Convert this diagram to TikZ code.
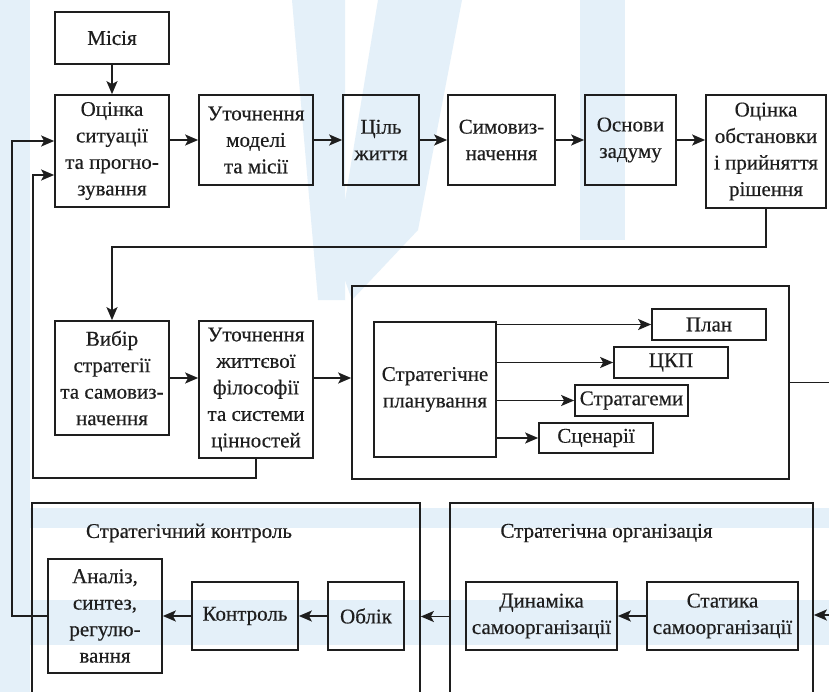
\documentclass[tikz,border=0pt]{standalone}
\usepackage{fontspec}
\setmainfont{Liberation Serif}
\newfontfamily\diagfont[FakeBold=0.4]{Liberation Serif}
\usetikzlibrary{arrows.meta}
\definecolor{wm}{RGB}{228,240,249}
\definecolor{ink}{RGB}{30,30,30}
\tikzset{
  base/.style={draw=ink, line width=1.7bp, inner sep=0pt, align=center,
    font=\diagfont\fontsize{21bp}{26.5bp}\selectfont, text=ink},
  bx/.style 2 args={base, rectangle, minimum width=#1, minimum height=#2},
  lbl/.style={inner sep=0pt, font=\diagfont\fontsize{21bp}{26.5bp}\selectfont, text=ink},
  arr/.style={draw=ink, line width=1.7bp, -{Stealth[length=13bp,width=11bp,inset=3bp]}},
  ln/.style={draw=ink, line width=1.7bp},
}
\begin{document}
\begin{tikzpicture}[x=1bp,y=-1bp]
\clip (0,0) rectangle (829,692);
\fill[white] (0,0) rectangle (829,692);
% watermark (approximate)
\fill[wm] (0,0) rectangle (30,692);
\fill[wm] (292,0) -- (345,0) -- (345,300) -- (318,300) -- cycle;
\fill[wm] (378,0) -- (462,0) -- (418,230) -- (352,300) -- (336,255) -- cycle;
\fill[wm] (580,0) rectangle (625,240);
\fill[wm] (0,508) rectangle (829,528);
\fill[wm] (0,600) rectangle (829,645);

% top row
\node[bx={114bp}{52bp}] (misia) at (112,38) {Місія};
\node[bx={114bp}{112bp}] (otsinka) at (112,151) {Оцінка\\ситуації\\та прогно-\\зування};
\node[bx={114bp}{90bp}] (utochn) at (256,140) {Уточнення\\моделі\\та місії};
\node[bx={76bp}{90bp}] (tsil) at (381,140) {Ціль\\життя};
\node[bx={107bp}{90bp}] (symov) at (501.5,140) {Симовиз-\\начення};
\node[bx={91bp}{90bp}] (osnovy) at (630.5,140) {Основи\\задуму};
\node[bx={120bp}{113bp}] (obst) at (766,151.5) {Оцінка\\обстановки\\і прийняття\\рішення};

\draw[arr] (misia) -- (otsinka);
\draw[arr] (otsinka.east |- utochn.west) -- (utochn.west);
\draw[arr] (utochn) -- (tsil);
\draw[arr] (tsil) -- (symov);
\draw[arr] (symov) -- (osnovy);
\draw[arr] (osnovy.east) -- (osnovy.east -| obst.west);

% second row
\node[bx={114bp}{114bp}] (vybir) at (112,378) {Вибір\\стратегії\\та самовиз-\\начення};
\node[bx={114bp}{137bp}] (zhyt) at (256,389.5) {Уточнення\\життєвої\\філософії\\та системи\\цінностей};
\node[bx={437bp}{193bp}] (planbox) at (570.5,382.5) {};
\node[bx={122bp}{135bp}] (strat) at (435,389.5) {Стратегічне\\планування};
\node[bx={114bp}{31bp}] (plan) at (709,324.5) {План};
\node[bx={114bp}{31bp}] (ckp) at (671,362.5) {ЦКП};
\node[bx={113bp}{31bp}] (stratag) at (631.5,400.5) {Стратагеми};
\node[bx={114bp}{30bp}] (scen) at (596,438) {Сценарії};

\draw[arr] (obst.south) |- (112,247) -- (vybir.north);
\draw[arr] (vybir.east) -- (vybir.east -| zhyt.west);
\draw[arr] (zhyt.east |- vybir.east) -- (vybir.east -| planbox.west);
\draw[arr] (strat.east |- plan.west) -- (plan.west);
\draw[arr] (strat.east |- ckp.west) -- (ckp.west);
\draw[arr] (strat.east |- stratag.west) -- (stratag.west);
\draw[arr] (strat.east |- scen.west) -- (scen.west);
\coordinate (outR) at (835,382.5);
\draw[ln] (planbox.east) -- (outR);

% feedback loops
\draw[arr] (zhyt.south) |- (33,478) |- (otsinka.west |- 0,175);
% bottom row
\node[bx={388bp}{227bp}] (ctrlbox) at (226,616.5) {};
\node[lbl] (ctrltitle) at (189,533) {Стратегічний контроль};
\node[bx={114bp}{114bp}] (analiz) at (105,616) {Аналіз,\\синтез,\\регулю-\\вання};
\node[bx={106bp}{68bp}] (kontrol) at (245,616) {Контроль};
\node[bx={76bp}{68bp}] (oblik) at (366,616) {Облік};

\node[bx={363bp}{227bp}] (orgbox) at (631.5,616.5) {};
\node[lbl] (orgtitle) at (606.5,533) {Стратегічна організація};
\node[bx={151bp}{68bp}] (dyn) at (541.5,616) {Динаміка\\самоорганізації};
\node[bx={151bp}{68bp}] (stat) at (722.5,616) {Статика\\самоорганізації};

\draw[arr] (analiz.west) -| (12,141) -- (otsinka.west |- 0,141);
\draw[arr] (oblik) -- (kontrol);
\draw[arr] (kontrol) -- (analiz);
\draw[arr] (stat) -- (dyn);
\draw[arr] (orgbox.west) -- (ctrlbox.east);
\coordinate (inR) at (835,615);
\draw[arr] (inR) -- (inR -| orgbox.east);
\end{tikzpicture}
\end{document}
